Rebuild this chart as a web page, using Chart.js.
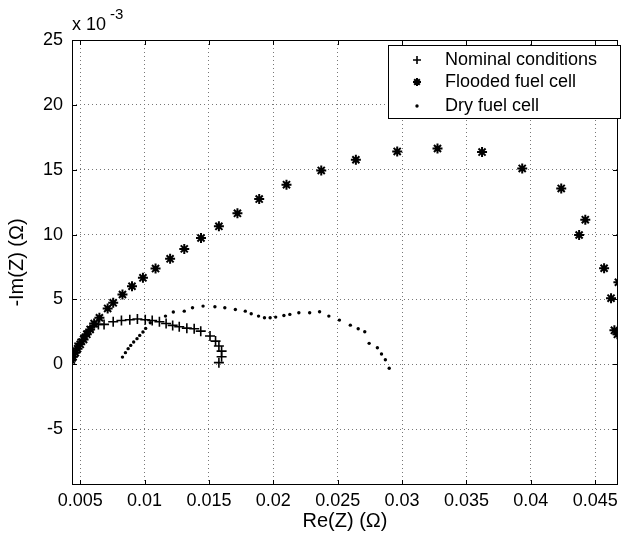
<!DOCTYPE html>
<html>
<head>
<meta charset="utf-8">
<script src="https://cdn.jsdelivr.net/npm/chart.js@4.4.1/dist/chart.umd.min.js"></script>
<style>
  html, body { margin: 0; padding: 0; background: #fff; }
</style>
</head>
<body>
<canvas id="nyquistChart" width="625" height="533"></canvas>
<script>
// Re(Z) in ohm, -Im(Z) in units of 1e-3 ohm (axis shows "x 10^-3")
const nominalRe = [0.00428, 0.00436, 0.00449, 0.00469, 0.00492, 0.00515, 0.00538, 0.00564, 0.00597, 0.00641,
  0.00685, 0.00756, 0.0082, 0.00885, 0.00944, 0.01005, 0.01059, 0.01115, 0.01167, 0.01218,
  0.01269, 0.01328, 0.01385, 0.01436, 0.01508, 0.01551, 0.01577, 0.01598, 0.01598, 0.01577];
const nominalIm = [0.26, 0.59, 0.90, 1.23, 1.62, 1.92, 2.23, 2.56, 2.90, 3.08,
  3.08, 3.28, 3.38, 3.44, 3.49, 3.44, 3.38, 3.28, 3.15, 3.00,
  2.90, 2.79, 2.74, 2.56, 2.18, 1.79, 1.41, 1.02, 0.59, 0.13];

const floodedRe = [0.00431, 0.00444, 0.00462, 0.00479, 0.0050, 0.00526, 0.00551, 0.00577, 0.00608, 0.00649,
  0.00713, 0.00756, 0.00828, 0.00902, 0.00987, 0.01085, 0.01198, 0.01308, 0.01438, 0.01577,
  0.01721, 0.0189, 0.02102, 0.02372, 0.02641, 0.02962, 0.03275, 0.03621, 0.03933, 0.04236,
  0.04423, 0.04375, 0.04569, 0.0468, 0.04623, 0.04649, 0.04672];
const floodedIm = [0.33, 0.59, 0.90, 1.20, 1.54, 1.92, 2.31, 2.69, 3.15, 3.59,
  4.31, 4.74, 5.38, 6.02, 6.67, 7.38, 8.13, 8.90, 9.74, 10.64,
  11.64, 12.74, 13.85, 14.95, 15.77, 16.41, 16.64, 16.36, 15.10, 13.56,
  11.15, 9.97, 7.41, 6.33, 5.10, 2.62, 2.31];

const dryRe = [0.00828, 0.00851, 0.00872, 0.00892, 0.00915, 0.00941, 0.00962, 0.00987, 0.01008, 0.01044,
  0.01162, 0.01223, 0.01308, 0.01372, 0.01454, 0.01546, 0.01623, 0.01705, 0.01782, 0.01828,
  0.01885, 0.01931, 0.01975, 0.02018, 0.02082, 0.02128, 0.02198, 0.02282, 0.02359, 0.02431,
  0.02513, 0.02598, 0.02659, 0.0271, 0.02744, 0.02808, 0.0284, 0.0287, 0.0290];
const dryIm = [0.56, 0.90, 1.21, 1.46, 1.72, 1.98, 2.23, 2.49, 2.77, 3.21,
  3.72, 4.03, 4.10, 4.36, 4.49, 4.44, 4.36, 4.23, 4.10, 3.90,
  3.72, 3.59, 3.59, 3.64, 3.77, 3.85, 3.98, 3.98, 4.05, 3.72,
  3.41, 3.02, 2.74, 2.51, 1.62, 1.28, 0.80, 0.35, -0.30];

const seriesLabels = ['Nominal conditions', 'Flooded fuel cell', 'Dry fuel cell'];
const xTicks = [0.005, 0.01, 0.015, 0.02, 0.025, 0.03, 0.035, 0.04, 0.045];
const yTicks = [-5, 0, 5, 10, 15, 20, 25];

const FONT = '"Liberation Sans", Arial, Helvetica, sans-serif';

function toPoints(re, im) {
  return re.map((x, i) => ({ x: x, y: im[i] }));
}

// MATLAB style box: frame, inward ticks, exponent, legend
const matlabBox = {
  id: 'matlabBox',
  afterDraw(chart) {
    const ctx = chart.ctx;
    const a = chart.chartArea;
    const xs = chart.scales.x, ys = chart.scales.y;
    ctx.save();
    ctx.strokeStyle = '#000';
    ctx.lineWidth = 1;
    ctx.strokeRect(a.left + 0.5, a.top + 0.5, a.right - a.left - 1, a.bottom - a.top - 1);

    ctx.beginPath();
    xTicks.forEach(v => {
      const px = Math.round(xs.getPixelForValue(v)) + 0.5;
      ctx.moveTo(px, a.bottom); ctx.lineTo(px, a.bottom - 5);
      ctx.moveTo(px, a.top); ctx.lineTo(px, a.top + 5);
    });
    yTicks.forEach(v => {
      const py = Math.round(ys.getPixelForValue(v)) + 0.5;
      ctx.moveTo(a.left, py); ctx.lineTo(a.left + 5, py);
      ctx.moveTo(a.right, py); ctx.lineTo(a.right - 5, py);
    });
    ctx.stroke();

    // exponent label
    ctx.fillStyle = '#000';
    ctx.textAlign = 'left';
    ctx.textBaseline = 'middle';
    ctx.font = '18px ' + FONT;
    ctx.fillText('x 10', 72, 25);
    ctx.font = '15px ' + FONT;
    ctx.fillText('-3', 110, 15);

    // legend box
    const lx = 388, ly = 45, lw = 232, lh = 73;
    ctx.fillStyle = '#fff';
    ctx.fillRect(lx, ly, lw, lh);
    ctx.lineWidth = 1;
    ctx.strokeRect(lx + 0.5, ly + 0.5, lw, lh);
    const rows = [60, 82, 106];
    chart.data.datasets.forEach((ds, i) => {
      ctx.strokeStyle = '#000';
      ctx.fillStyle = '#000';
      ctx.lineWidth = ds.pointBorderWidth;
      Chart.helpers.drawPoint(ctx, {
        pointStyle: ds.pointStyle,
        radius: ds.pointStyle === 'circle' ? ds.pointRadius : 4,
        borderWidth: ds.pointBorderWidth,
        rotation: 0
      }, 417, rows[i]);
      ctx.fillStyle = '#000';
      ctx.font = '18px ' + FONT;
      ctx.textBaseline = 'middle';
      ctx.fillText(ds.label, 445, rows[i]);
    });
    ctx.restore();
  }
};

const scatterData = {
  datasets: [{
    label: seriesLabels[0],
    data: toPoints(nominalRe, nominalIm),
    pointStyle: 'cross',
    pointRadius: 5,
    pointBorderWidth: 1.6,
    pointBorderColor: '#000',
    pointBackgroundColor: '#000'
  }, {
    label: seriesLabels[1],
    data: toPoints(floodedRe, floodedIm),
    pointStyle: 'star',
    pointRadius: 5,
    pointBorderWidth: 2,
    pointBorderColor: '#000',
    pointBackgroundColor: '#000'
  }, {
    label: seriesLabels[2],
    data: toPoints(dryRe, dryIm),
    pointStyle: 'circle',
    pointRadius: 1.7,
    pointBorderWidth: 0,
    pointBorderColor: '#000',
    pointBackgroundColor: '#000'
  }]
};

const scatterConfig = {
  type: 'scatter',
  data: scatterData,
  options: {
    responsive: false,
    animation: false,
    devicePixelRatio: 1,
    layout: { padding: { top: 40, right: 2, left: 0, bottom: 0 } },
    plugins: { legend: { display: false }, tooltip: { enabled: false } },
    scales: {
      x: {
        type: 'linear',
        min: 0.00436,
        max: 0.04677,
        afterBuildTicks: s => { s.ticks = xTicks.map(v => ({ value: v })); },
        afterFit: s => { s.height = 48; },
        ticks: {
          color: '#000',
          font: { family: FONT, size: 18 },
          padding: 5,
          maxRotation: 0,
          autoSkip: false,
          callback: v => String(+v.toFixed(4))
        },
        grid: { color: '#777', lineWidth: 1, drawTicks: false },
        border: { display: false, dash: [1, 3] },
        title: {
          display: true,
          text: 'Re(Z) (Ω)',
          color: '#000',
          font: { family: FONT, size: 20 },
          padding: { top: 0, bottom: 0 }
        }
      },
      y: {
        type: 'linear',
        min: -9.3,
        max: 25,
        afterBuildTicks: s => { s.ticks = yTicks.map(v => ({ value: v })); },
        afterFit: s => { s.width = 72; },
        ticks: {
          color: '#000',
          font: { family: FONT, size: 18 },
          padding: 9,
          autoSkip: false,
          callback: v => String(v)
        },
        grid: { color: '#777', lineWidth: 1, drawTicks: false },
        border: { display: false, dash: [1, 3] },
        title: {
          display: true,
          text: '-Im(Z) (Ω)',
          color: '#000',
          font: { family: FONT, size: 20 },
          padding: { top: 5, bottom: 0 }
        }
      }
    }
  },
  plugins: [matlabBox]
};

const nyquistChart = new Chart(document.getElementById('nyquistChart'), scatterConfig);
</script>
</body>
</html>
